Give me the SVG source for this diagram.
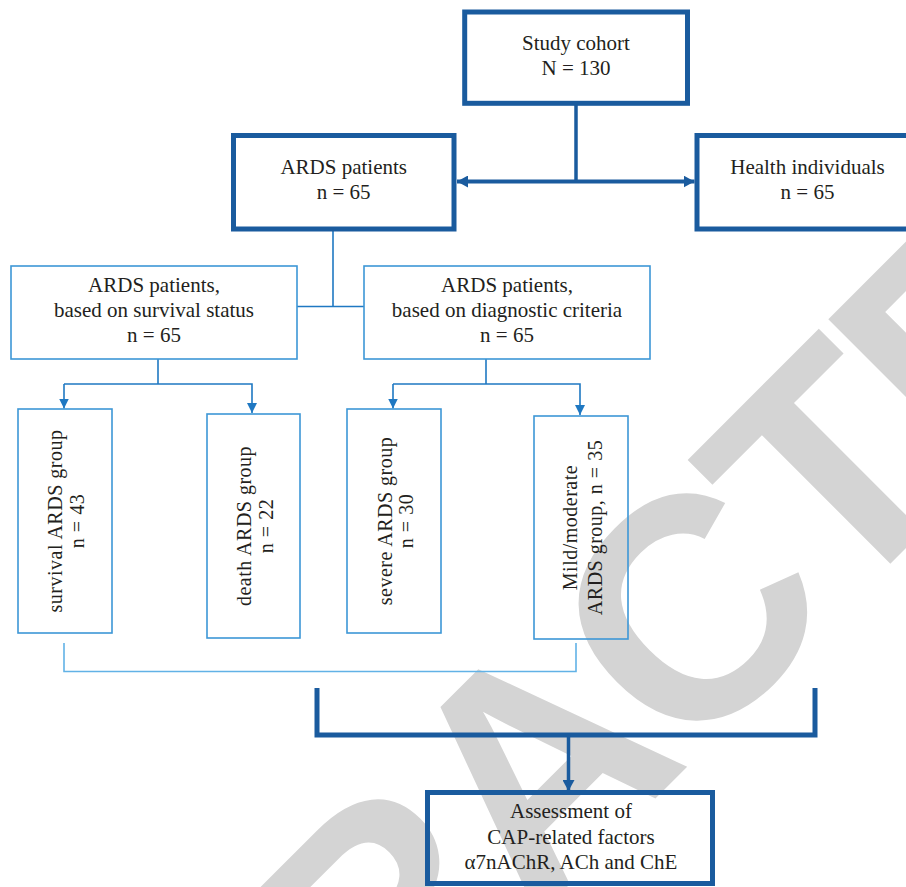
<svg xmlns="http://www.w3.org/2000/svg" width="906" height="887" viewBox="0 0 906 887">
<style>
.wm{font-family:"Liberation Sans",Arial,sans-serif;font-weight:bold;font-size:315px;fill:#d4d4d4;letter-spacing:-11px}
.tk{fill:none;stroke:#1a5b9e;stroke-width:5}
.tn{fill:none;stroke:#3d97d6;stroke-width:1.6}
.t{font-family:"Liberation Serif","Times New Roman",serif;font-size:21px;fill:#231f20;text-anchor:middle}
.v{font-family:"Liberation Serif","Times New Roman",serif;font-size:20px;fill:#231f20;text-anchor:middle;letter-spacing:0.5px}
.ck{fill:none;stroke:#1a5b9e;stroke-width:4}
.cn{fill:none;stroke:#1f78c2;stroke-width:1.6}
.cb{fill:none;stroke:#62b2e6;stroke-width:1.6}
</style>
<defs>
<marker id="ahk" viewBox="0 0 11 12" refX="11" refY="6" markerWidth="11" markerHeight="12" markerUnits="userSpaceOnUse" orient="auto-start-reverse"><path d="M0,0 L11,6 L0,12 z" fill="#1a5b9e"/></marker>
<marker id="ahn" viewBox="0 0 10 10" refX="10" refY="5" markerWidth="10" markerHeight="10" markerUnits="userSpaceOnUse" orient="auto"><path d="M0,0 L10,5 L0,10 z" fill="#1f78c2"/></marker>
</defs>
<rect width="906" height="887" fill="#ffffff"/>
<text class="wm" x="-43" y="1497" transform="rotate(-45 -43 1497)">RETRACTED</text>

<g id="connectors">
<line class="ck" x1="576" y1="105" x2="576" y2="181.5" style="stroke-width:3.5"/>
<line class="ck" x1="457" y1="181.5" x2="694.5" y2="181.5" marker-start="url(#ahk)" marker-end="url(#ahk)"/>
<line class="cn" x1="333" y1="231" x2="333" y2="306.5"/>
<line class="cn" x1="297" y1="306.5" x2="364" y2="306.5"/>
<line class="cn" x1="158" y1="359" x2="158" y2="384"/>
<polyline class="cn" points="64,384 252,384 252,413" marker-end="url(#ahn)"/>
<line class="cn" x1="64" y1="384" x2="64" y2="408.5" marker-end="url(#ahn)"/>
<line class="cn" x1="486" y1="359" x2="486" y2="384"/>
<polyline class="cn" points="393,384 580,384 580,415" marker-end="url(#ahn)"/>
<line class="cn" x1="393" y1="384" x2="393" y2="408.5" marker-end="url(#ahn)"/>
<polyline class="cb" points="64,643 64,671.5 576,671.5 576,643"/>
<polyline class="tk" points="317,688 317,735 815,735 815,688"/>
<line class="ck" x1="568.5" y1="735" x2="568.5" y2="791" style="stroke-width:3.5" marker-end="url(#ahk)"/>
</g>

<g id="study">
<rect class="tk" x="464.7" y="12" width="222.8" height="91.3"/>
<text class="t" x="576" y="50">Study cohort</text>
<text class="t" x="576" y="75">N = 130</text>
</g>
<g id="ards">
<rect class="tk" x="233.5" y="135.5" width="220.5" height="93.5"/>
<text class="t" x="343.7" y="174">ARDS patients</text>
<text class="t" x="343.7" y="199">n = 65</text>
</g>
<g id="health">
<rect class="tk" x="697" y="135.5" width="222" height="93.5"/>
<text class="t" x="807.5" y="174">Health individuals</text>
<text class="t" x="807.5" y="199">n = 65</text>
</g>
<g id="survival-status">
<rect class="tn" x="11" y="266" width="286" height="93"/>
<text class="t" x="154" y="292">ARDS patients,</text>
<text class="t" x="154" y="317">based on survival status</text>
<text class="t" x="154" y="342">n = 65</text>
</g>
<g id="diagnostic">
<rect class="tn" x="364" y="266" width="286" height="93"/>
<text class="t" x="507" y="292">ARDS patients,</text>
<text class="t" x="507" y="317">based on diagnostic criteria</text>
<text class="t" x="507" y="342">n = 65</text>
</g>
<g id="survival-group">
<rect class="tn" x="18" y="409" width="94" height="224"/>
<g transform="translate(65 521) rotate(-90)">
<text class="v" x="0" y="-3">survival ARDS group</text>
<text class="v" x="0" y="19">n = 43</text>
</g>
</g>
<g id="death-group">
<rect class="tn" x="207" y="414" width="93" height="224"/>
<g transform="translate(253.5 526) rotate(-90)">
<text class="v" x="0" y="-3">death ARDS group</text>
<text class="v" x="0" y="19">n = 22</text>
</g>
</g>
<g id="severe-group">
<rect class="tn" x="347" y="409" width="94" height="224"/>
<g transform="translate(394 521) rotate(-90)">
<text class="v" x="0" y="-2">severe ARDS group</text>
<text class="v" x="0" y="19">n = 30</text>
</g>
</g>
<g id="mild-group">
<rect class="tn" x="534" y="416" width="94" height="223"/>
<g transform="translate(581 527.5) rotate(-90)">
<text class="v" x="0" y="-4">Mild/moderate</text>
<text class="v" x="0" y="21">ARDS group, n = 35</text>
</g>
</g>
<g id="assessment">
<rect class="tk" x="427.5" y="792.5" width="285" height="91"/>
<text class="t" x="571" y="818">Assessment of</text>
<text class="t" x="571" y="844">CAP-related factors</text>
<text class="t" x="571" y="869">α7nAChR, ACh and ChE</text>
</g>
</svg>
